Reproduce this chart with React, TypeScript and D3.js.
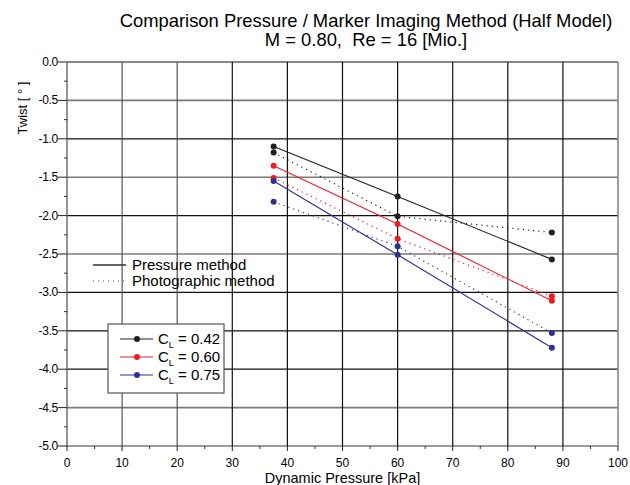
import { useEffect, useRef } from 'react';
import * as d3 from 'd3';

// dynamic pressure (kPa) of the three measurement points
const dynPressure = [37.5, 60, 88];

// twist (deg), pressure method vs photographic (marker imaging) method
const pressureCL042 = [-1.1, -1.75, -2.57];
const photoCL042 = [-1.18, -2.01, -2.22];
const pressureCL060 = [-1.35, -2.11, -3.11];
const photoCL060 = [-1.51, -2.3, -3.05];
const pressureCL075 = [-1.55, -2.51, -3.72];
const photoCL075 = [-1.82, -2.4, -3.53];

const seriesNames = ['0.42', '0.60', '0.75'];
const seriesColors = ['#231f20', '#ed1c24', '#2e3192'];

const xTicks = [0, 10, 20, 30, 40, 50, 60, 70, 80, 90, 100];
const yTicks = [0, -0.5, -1, -1.5, -2, -2.5, -3, -3.5, -4, -4.5, -5];

const FONT = 'Liberation Sans, Arial, Helvetica, sans-serif';

export default function App() {
  const svgRef = useRef<SVGSVGElement | null>(null);

  useEffect(() => {
    const svg = d3.select(svgRef.current);
    svg.selectAll('*').remove();

    const left = 67, right = 618, top = 62, bottom = 446;

    const x = d3.scaleLinear().domain([0, 100]).range([left, right]);
    const y = d3.scaleLinear().domain([0, -5]).range([top, bottom]);

    // grid lines
    const grid = svg.append('g');
    const greyH = new Set([-0.5, -1.5, -2.5, -4.5, -5]);
    yTicks.forEach((t) => {
      grid.append('line')
        .attr('x1', left).attr('x2', right)
        .attr('y1', y(t)).attr('y2', y(t))
        .attr('stroke', greyH.has(t) ? '#7a7a7a' : '#111')
        .attr('stroke-width', greyH.has(t) ? 1.6 : 1.2);
    });
    const greyV = new Set([10, 20]);
    xTicks.filter((t) => t > 0 && t < 100).forEach((t) => {
      grid.append('line')
        .attr('x1', x(t)).attr('x2', x(t))
        .attr('y1', top).attr('y2', bottom)
        .attr('stroke', greyV.has(t) ? '#555' : '#111')
        .attr('stroke-width', 1.2);
    });
    // right frame
    grid.append('line')
      .attr('x1', right).attr('x2', right)
      .attr('y1', top).attr('y2', bottom)
      .attr('stroke', '#888').attr('stroke-width', 1.6);

    // axes
    const yAxis = svg.append('g');
    yAxis.append('line')
      .attr('x1', left).attr('x2', left)
      .attr('y1', top).attr('y2', bottom + 1)
      .attr('stroke', '#777').attr('stroke-width', 1.6);
    yTicks.forEach((t) => {
      yAxis.append('line')
        .attr('x1', left - 9).attr('x2', left)
        .attr('y1', y(t)).attr('y2', y(t))
        .attr('stroke', '#222').attr('stroke-width', 1);
      yAxis.append('text')
        .attr('x', left - 9)
        .attr('y', y(t) + 4)
        .attr('text-anchor', 'end')
        .style('font-family', FONT)
        .style('font-size', '12px')
        .style('letter-spacing', '-0.3px')
        .text(d3.format('.1f')(t).replace('−', '-'));
    });
    d3.range(0, 10).forEach((i) => {
      const v = -0.25 - i * 0.5;
      yAxis.append('line')
        .attr('x1', left - 3).attr('x2', left)
        .attr('y1', y(v)).attr('y2', y(v))
        .attr('stroke', '#333').attr('stroke-width', 1);
    });

    const xAxis = svg.append('g');
    xTicks.forEach((t) => {
      xAxis.append('line')
        .attr('x1', x(t)).attr('x2', x(t))
        .attr('y1', bottom).attr('y2', bottom + 5)
        .attr('stroke', '#222').attr('stroke-width', 1);
      xAxis.append('text')
        .attr('x', x(t))
        .attr('y', bottom + 21)
        .attr('text-anchor', 'middle')
        .style('font-family', FONT)
        .style('font-size', '12px')
        .text(t);
    });
    d3.range(0, 10).forEach((i) => {
      const v = 5 + i * 10;
      xAxis.append('line')
        .attr('x1', x(v)).attr('x2', x(v))
        .attr('y1', bottom).attr('y2', bottom + 3)
        .attr('stroke', '#333').attr('stroke-width', 1);
    });

    // axis titles
    svg.append('text')
      .attr('x', x(50))
      .attr('y', 483)
      .attr('text-anchor', 'middle')
      .style('font-family', FONT)
      .style('font-size', '14.5px')
      .text('Dynamic Pressure [kPa]');

    svg.append('text')
      .attr('transform', 'rotate(-90)')
      .attr('x', -108)
      .attr('y', 27)
      .attr('text-anchor', 'middle')
      .style('font-family', FONT)
      .style('font-size', '13px')
      .text('Twist [ ° ]');

    // chart title
    svg.append('text')
      .attr('x', 366)
      .attr('y', 27)
      .attr('text-anchor', 'middle')
      .style('font-family', FONT)
      .style('font-size', '18.4px')
      .text('Comparison Pressure / Marker Imaging Method (Half Model)');
    svg.append('text')
      .attr('x', 366)
      .attr('y', 46)
      .attr('text-anchor', 'middle')
      .style('font-family', FONT)
      .style('font-size', '18.4px')
      .attr('xml:space', 'preserve')
      .style('white-space', 'pre')
      .text('M = 0.80,  Re = 16 [Mio.]');

    // data series
    const pressure = [pressureCL042, pressureCL060, pressureCL075];
    const photo = [photoCL042, photoCL060, photoCL075];
    const line = d3.line<number>()
      .x((d, i) => x(dynPressure[i]))
      .y((d) => y(d));

    const plot = svg.append('g');
    [0, 1, 2].forEach((s) => {
      plot.append('path')
        .attr('d', line(photo[s]))
        .attr('fill', 'none')
        .attr('stroke', seriesColors[s])
        .attr('stroke-width', 1.2)
        .attr('stroke-dasharray', '1.2,4');
      plot.append('path')
        .attr('d', line(pressure[s]))
        .attr('fill', 'none')
        .attr('stroke', seriesColors[s])
        .attr('stroke-width', 1.1);
    });
    [0, 1, 2].forEach((s) => {
      [...pressure[s], ...photo[s]].forEach((v, i) => {
        plot.append('circle')
          .attr('cx', x(dynPressure[i % 3]))
          .attr('cy', y(v))
          .attr('r', 3)
          .attr('fill', seriesColors[s]);
      });
    });

    // method legend
    const ml = svg.append('g');
    ml.append('line')
      .attr('x1', 93).attr('x2', 126)
      .attr('y1', 265).attr('y2', 265)
      .attr('stroke', '#333').attr('stroke-width', 1.3);
    ml.append('line')
      .attr('x1', 93).attr('x2', 126)
      .attr('y1', 281).attr('y2', 281)
      .attr('stroke', '#444').attr('stroke-width', 1)
      .attr('stroke-dasharray', '1,4');
    ml.append('text')
      .attr('x', 132).attr('y', 270)
      .style('font-family', FONT).style('font-size', '15px')
      .text('Pressure method');
    ml.append('text')
      .attr('x', 132).attr('y', 286)
      .style('font-family', FONT).style('font-size', '15px')
      .text('Photographic method');

    // CL legend
    const cl = svg.append('g');
    cl.append('rect')
      .attr('x', 108).attr('y', 324)
      .attr('width', 116).attr('height', 69)
      .attr('fill', '#fff')
      .attr('stroke', '#555').attr('stroke-width', 1.2);
    seriesNames.forEach((name, i) => {
      const ly = 339 + i * 18;
      cl.append('line')
        .attr('x1', 120).attr('x2', 153)
        .attr('y1', ly).attr('y2', ly)
        .attr('stroke', seriesColors[i]).attr('stroke-width', 1.1);
      cl.append('circle')
        .attr('cx', 137).attr('cy', ly).attr('r', 3)
        .attr('fill', seriesColors[i]);
      const t = cl.append('text')
        .attr('x', 158).attr('y', ly + 5)
        .style('font-family', FONT).style('font-size', '15px');
      t.append('tspan').text('C');
      t.append('tspan').attr('dy', 4).style('font-size', '9px').text('L');
      t.append('tspan').attr('dy', -4).text(` = ${name}`);
    });
  }, []);

  return (
    <svg
      ref={svgRef}
      width={630}
      height={485}
      style={{ position: 'absolute', left: 0, top: 0, background: '#fff' }}
    />
  );
}
